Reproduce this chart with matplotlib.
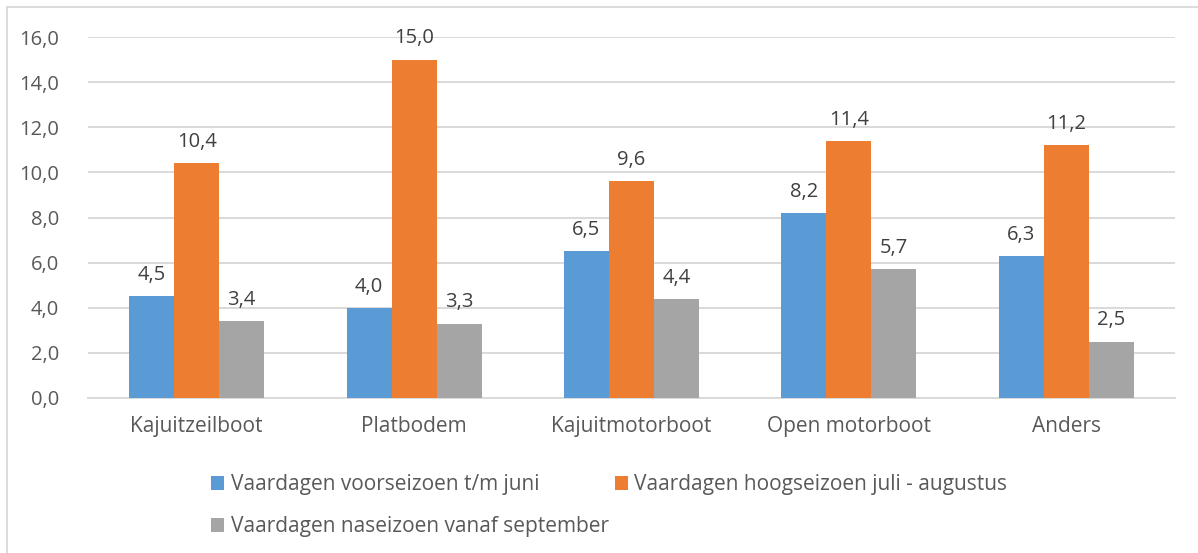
import numpy as np
import matplotlib.pyplot as plt
from matplotlib.lines import Line2D

categories = ["Kajuitzeilboot", "Platbodem", "Kajuitmotorboot", "Open motorboot", "Anders"]
voorseizoen = [4.5, 4.0, 6.5, 8.2, 6.3]
hoogseizoen = [10.4, 15.0, 9.6, 11.4, 11.2]
naseizoen = [3.4, 3.3, 4.4, 5.7, 2.5]
series_names = [
    "Vaardagen voorseizoen t/m juni",
    "Vaardagen hoogseizoen juli - augustus",
    "Vaardagen naseizoen vanaf september",
]
colors = ["#5b9bd5", "#ed7d31", "#a5a5a5"]

plt.rcParams["font.family"] = ["Open Sans", "DejaVu Sans"]

W, H = 1198, 553
fig = plt.figure(figsize=(W / 100, H / 100), dpi=100)
ax = fig.add_axes([88 / W, 1 - 398 / H, (1175 - 88) / W, (398 - 37) / H])

x = np.arange(len(categories))
bw = 0.207
for i, (vals, name, c) in enumerate(zip([voorseizoen, hoogseizoen, naseizoen], series_names, colors)):
    bars = ax.bar(x + (i - 1) * bw, vals, bw, color=c, label=name, zorder=3)
    for b, v in zip(bars, vals):
        ax.annotate(f"{v:.1f}".replace(".", ","), (b.get_x() + b.get_width() / 2, v),
                    xytext=(0, 8), textcoords="offset points", ha="center", va="bottom",
                    fontsize=14.5, color="#404040")

ax.set_xlim(-0.5, len(categories) - 0.5)
ax.set_ylim(0, 16)
yt = np.arange(0, 17, 2)
ax.set_yticks(yt)
ax.set_yticklabels([f"{t:.1f}".replace(".", ",") for t in yt])
ax.set_xticks(x)
ax.set_xticklabels(categories, fontsize=15)
ax.tick_params(axis="both", length=0, labelsize=14.5, labelcolor="#595959")
ax.tick_params(axis="x", labelsize=15, pad=13)
ax.tick_params(axis="y", pad=21)
ax.grid(axis="y", color="#d9d9d9", lw=1.4, zorder=0)
for s in ["top", "right", "left"]:
    ax.spines[s].set_visible(False)
ax.spines["bottom"].set_color("#d9d9d9")
ax.spines["bottom"].set_linewidth(1.4)

h, l = ax.get_legend_handles_labels()
order = [0, 2, 1]
fig.legend([h[i] for i in order], [l[i] for i in order], ncol=2,
           loc="upper left", bbox_to_anchor=(201 / W, 1 - 464 / H),
           frameon=False, fontsize=15, labelcolor="#595959",
           handlelength=0.62, handleheight=0.62, handletextpad=0.3,
           columnspacing=0.3, labelspacing=1.0, borderpad=0)

# chart border
fig.add_artist(Line2D([7 / W, 7 / W], [0, 1 - 7 / H], color="#d9d9d9", lw=1.3))
fig.add_artist(Line2D([7 / W, 1], [1 - 7 / H, 1 - 7 / H], color="#d9d9d9", lw=1.3))

fig.savefig("out.png", dpi=100)
